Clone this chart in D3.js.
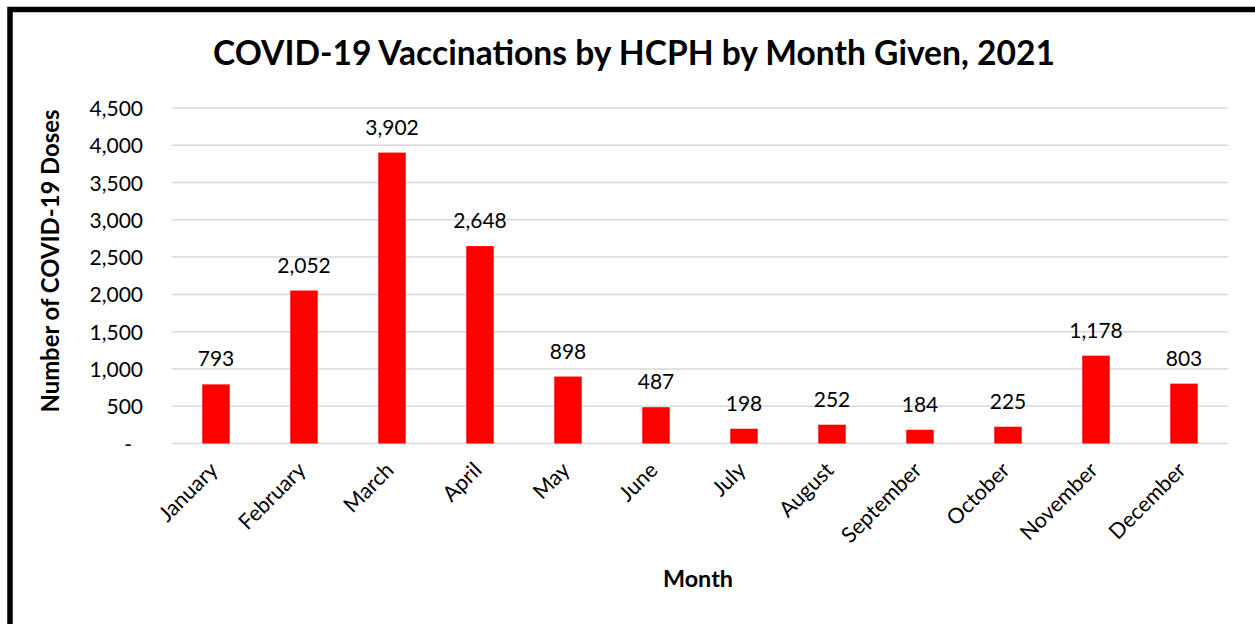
<!DOCTYPE html>
<html>
<head>
<meta charset="utf-8">
<script src="https://cdn.jsdelivr.net/npm/d3@7"></script>
<style>
  html, body { margin: 0; padding: 0; background: #fff; }
  svg { display: block; }
  text { font-family: Lato, "Open Sans", sans-serif; fill: #000; }
</style>
</head>
<body>
<script>
const months = ["January","February","March","April","May","June","July","August","September","October","November","December"];
const doses = [793, 2052, 3902, 2648, 898, 487, 198, 252, 184, 225, 1178, 803];
const yTicks = [0, 500, 1000, 1500, 2000, 2500, 3000, 3500, 4000, 4500];
const titleText = "COVID-19 Vaccinations by HCPH by Month Given, 2021";
const yTitleText = "Number of COVID-19 Doses";
const xTitleText = "Month";

const W = 1255, H = 624;
const svg = d3.select("body").append("svg").attr("width", W).attr("height", H);

// frame (only top and left are visible in the crop)
svg.append("rect").attr("x", 10).attr("y", 9.5).attr("width", W + 20).attr("height", H + 20)
  .attr("fill", "#fff").attr("stroke", "#000").attr("stroke-width", 5.5);

const x = d3.scaleBand().domain(months).range([172, 1228]).paddingInner(0.6875).paddingOuter(0.34375);
const y = d3.scaleLinear().domain([0, 4500]).range([443.5, 108]);

// gridlines
svg.append("g").selectAll("line").data(yTicks).join("line")
  .attr("x1", 172).attr("x2", 1228)
  .attr("y1", d => y(d)).attr("y2", d => y(d))
  .attr("stroke", "#d9d9d9").attr("stroke-width", 1.5);

// y axis labels
const yAxis = d3.axisLeft(y).tickValues(yTicks).tickSize(0).tickPadding(0)
  .tickFormat(d => d === 0 ? "-" : d3.format(",")(d));
const gy = svg.append("g").attr("transform", "translate(143,0)").call(yAxis);
gy.select(".domain").remove();
gy.selectAll("text").attr("font-size", 21).attr("font-family", "Lato").attr("fill", "#000")
  .attr("dy", "0.36em")
  .attr("dx", d => d === 0 ? -11 : 0);

// bars
svg.append("g").selectAll("rect").data(doses).join("rect")
  .attr("x", (d, i) => x(months[i]))
  .attr("width", x.bandwidth())
  .attr("y", d => y(d))
  .attr("height", d => y(0) - y(d))
  .attr("fill", "#ff0000");

// data labels
svg.append("g").selectAll("text").data(doses).join("text")
  .attr("x", (d, i) => x(months[i]) + x.bandwidth() / 2)
  .attr("y", d => y(d) - 18)
  .attr("text-anchor", "middle")
  .attr("font-size", 21)
  .text(d => d3.format(",")(d));

// x axis labels
const xAxis = d3.axisBottom(x).tickSize(0).tickPadding(0);
const gx = svg.append("g").attr("transform", "translate(0,443.5)").call(xAxis);
gx.select(".domain").remove();
gx.selectAll("text")
  .attr("font-size", 21.5).attr("font-family", "Lato").attr("fill", "#000")
  .attr("text-anchor", "end")
  .attr("dy", null)
  .attr("y", 0)
  .attr("transform", "translate(3,28) rotate(-45)");

// titles
function fit(sel, target) {
  const w = sel.node().getComputedTextLength();
  const fs = parseFloat(sel.attr("font-size"));
  sel.attr("font-size", fs * target / w);
}
const t = svg.append("text").attr("x", 634).attr("y", 65).attr("text-anchor", "middle")
  .attr("font-size", 30).attr("font-weight", 700).text(titleText);
fit(t, 842);

const yt = svg.append("text").attr("transform", "translate(59,261) rotate(-90)")
  .attr("text-anchor", "middle").attr("font-size", 20).attr("font-weight", 700).text(yTitleText);
fit(yt, 303);

const xt = svg.append("text").attr("x", 698).attr("y", 587).attr("text-anchor", "middle")
  .attr("font-size", 21).attr("font-weight", 700).text(xTitleText);
fit(xt, 70);
</script>
</body>
</html>
